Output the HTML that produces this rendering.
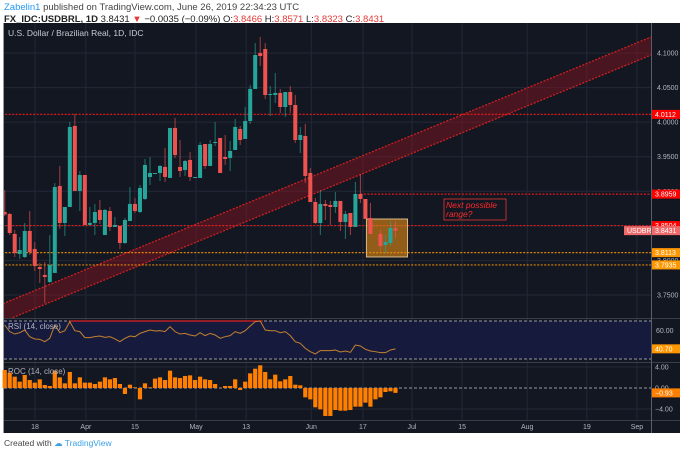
<!DOCTYPE html>
<html><head><meta charset="utf-8">
<style>
body{margin:0;background:#fff;width:680px;height:452px;overflow:hidden;font-family:"Liberation Sans",sans-serif}
svg{display:block}
</style></head>
<body>
<svg id="c" width="680" height="452" xmlns="http://www.w3.org/2000/svg" font-family="Liberation Sans, sans-serif">
<rect x="0" y="0" width="680" height="452" fill="#fff"/>
<text x="4" y="10" font-size="9.5" fill="#444"><tspan fill="#2196f3">Zabelin1</tspan> published on TradingView.com, June 26, 2019 22:34:23 UTC</text>
<text x="4" y="22" font-size="9.5" fill="#222"><tspan font-weight="bold">FX_IDC:USDBRL, 1D</tspan> 3.8431 <tspan fill="#e53935">▼</tspan> −0.0035 (−0.09%) O:<tspan fill="#e53935">3.8466</tspan> H:<tspan fill="#e53935">3.8571</tspan> L:<tspan fill="#e53935">3.8323</tspan> C:<tspan fill="#e53935">3.8431</tspan></text>
<rect x="3" y="23" width="677" height="410" fill="#131722"/>
<line x1="3.5" y1="23" x2="3.5" y2="433" stroke="#999" stroke-width="1"/>
<g id="grid"></g>
<g id="main" clip-path="url(#mc)"></g>
<g id="axis"></g>
<text x="8" y="36" font-size="8.5" fill="#c9cbd1">U.S. Dollar / Brazilian Real, 1D, IDC</text>
<text x="4" y="446" font-size="8.5" fill="#444">Created with <tspan fill="#3aa0e8">☁ TradingView</tspan></text>
<defs><clipPath id="mc"><rect x="4" y="23" width="647" height="295"/></clipPath></defs>
</svg>
<script>
// ---- data ----
const opens=[3.8701,3.8672,3.8383,3.8093,3.8050,3.8426,3.8166,3.7905,3.7790,3.7688,3.7819,3.9077,3.8542,3.8773,3.9945,3.9005,3.9236,3.8513,3.8542,3.8730,3.8368,3.8715,3.8484,3.8498,3.8252,3.8571,3.8817,3.8701,3.8889,3.9207,3.9250,3.9265,3.9352,3.9193,3.9916,3.9352,3.9308,3.9453,3.9193,3.9193,3.9684,3.9366,3.9699,3.9771,3.9496,3.9482,3.9597,3.9901,3.9757,4.0017,4.0480,4.1000,4.1058,4.0393,4.0393,4.0422,4.0219,4.0436,4.0248,3.9742,3.9800,3.9265,3.8845,3.8542,3.8817,3.8802,3.8773,3.8860,3.8556,3.8686,3.8484,3.8961,3.8889,3.8614,null,3.8383,3.8224,3.8252,3.8466];
const highs=[3.9019,3.8686,3.8441,3.8339,3.8542,3.8715,3.8267,3.7963,3.7978,3.8368,3.9120,3.9366,3.8773,4.0003,4.0118,3.9294,3.9236,3.8773,3.8817,3.8874,3.8744,3.8773,3.8629,3.8498,3.8614,3.9062,3.8903,3.9091,3.9467,3.9496,3.9265,3.9381,3.9626,3.9916,4.0060,3.9742,3.9453,3.9568,3.9207,3.9713,3.9684,3.9742,4.0003,3.9771,3.9814,3.9728,4.0046,3.9945,4.0219,4.0537,4.1145,4.1231,4.1145,4.0523,4.0711,4.0480,4.0436,4.0523,4.0393,3.9930,3.9974,3.9337,3.8903,3.9019,3.8874,3.8860,3.8990,3.8860,3.8715,3.8686,3.9135,3.9250,3.8889,3.8831,null,3.8441,3.8368,3.8571,3.8571];
const lows=[3.8643,3.8368,3.8050,3.8021,3.8035,3.8079,3.7847,3.7674,3.7385,3.7674,3.7819,3.8455,3.8354,3.8773,3.9005,3.8715,3.8513,3.8513,3.8368,3.8527,3.8368,3.8426,3.8484,3.8166,3.8238,3.8571,3.8686,3.8686,3.8874,3.9091,3.9250,3.9149,3.9135,3.9193,3.9482,3.9207,3.9222,3.9149,3.9193,3.9193,3.9323,3.9366,3.9655,3.9265,3.9381,3.9294,3.9597,3.9670,3.9757,3.9974,4.0480,4.0812,4.0335,4.0089,4.0277,4.0132,4.0075,4.0132,3.9699,3.9554,3.9120,3.8845,3.8527,3.8368,3.8585,3.8513,3.8686,3.8426,3.8310,3.8368,3.8484,3.8831,3.8600,3.8383,null,3.8137,3.8108,3.8209,3.8323];
const closes=[3.8665,3.8397,3.8108,3.8151,3.8426,3.8122,3.7919,3.7876,3.7761,3.7934,3.9062,3.8542,3.8773,3.9930,3.9005,3.9236,3.8513,3.8542,3.8701,3.8585,3.8730,3.8484,3.8513,3.8252,3.8585,3.8817,3.8715,3.9048,3.9381,3.9265,3.9265,3.9366,3.9207,3.9916,3.9525,3.9294,3.9438,3.9207,3.9207,3.9670,3.9366,3.9684,3.9713,3.9265,3.9467,3.9583,3.9930,3.9742,4.0017,4.0480,4.0971,4.0957,4.0393,4.0407,4.0422,4.0219,4.0436,4.0248,3.9742,3.9814,3.9222,3.8845,3.8542,3.8817,3.8788,3.8773,3.8860,3.8556,3.8672,3.8484,3.8961,3.8889,3.8600,3.8383,null,3.8209,3.8267,3.8469,3.8431];
const rsiValues=[65.8,58.8,56.3,57.7,60.5,53.5,51.1,50.7,48.2,51.8,65.8,57.7,59.8,69.3,59.8,58.8,52.5,52.5,53.5,54.2,52.8,53.5,51.1,48.2,51.8,54.2,53.5,57.0,58.8,60.5,59.5,59.8,58.8,64.0,58.8,56.3,57.0,55.3,54.2,57.7,54.6,57.0,55.3,51.8,53.5,54.6,58.8,57.0,59.8,64.7,69.3,70.0,60.5,59.8,59.8,57.7,58.8,54.6,48.2,46.5,41.2,37.7,35.3,38.8,38.8,38.8,39.5,37.4,38.4,37.0,44.7,43.7,40.2,38.4,37.7,36.7,36.7,39.5,40.7];
const rocValues=[3.43,2.92,2.16,1.21,2.48,1.52,1.02,1.65,0.57,0.38,3.30,2.03,0.89,3.05,0.89,2.03,1.02,1.02,0.76,1.21,2.03,1.65,1.90,0.76,-1.14,0.63,0.13,-2.16,0.89,0.13,1.78,2.03,1.52,3.30,2.03,1.90,2.29,2.41,1.52,2.16,1.65,1.52,0.76,0,0.38,0.38,1.65,-0.38,1.21,2.79,3.68,4.32,3.05,1.65,2.54,1.27,1.65,2.29,0.63,0.51,-1.78,-2.16,-3.68,-4.06,-5.33,-5.33,-4.19,-4.32,-4.32,-4.19,-3.56,-3.56,-2.79,-3.56,-2.16,-1.78,-0.76,-0.63,-0.93];
const dateLabels=['18','Apr','15','May','13','Jun','17','Jul','15','Aug','19','Sep'];
const dateSlots=[6.05,16.2,26,38.2,48.2,61.2,71.5,81.3,91.3,104.3,116.2,126.2];
const priceTicks=[3.75,3.80,3.85,3.90,3.95,4.00,4.05,4.10];
const hLevels=[4.0112,3.8959,3.8504,3.8113,3.7935];
const hColors=['#ff1a1a','#ff1a1a','#ff1a1a','#ff9800','#ff9800'];
const hStartSlot=[-2,71,-2,-2,-2];
const channelSlots=[-1,129];
const channelUpper=[3.7355,4.1231];
const channelWidth=0.026;
const boxSlots=[72.2,80.4];
const boxPrices=[3.8599,3.8050];
const rsiTicks=[60];
const rocTicks=[4,0,-4];
// ---- scales ----
const X=i=>4.7+i*5.01;
const Y=p=>295-(p-3.75)*691.4;
const YR=v=>321+(70-v)*0.95;
const YC=v=>388-v*5.25;
const NS='http://www.w3.org/2000/svg';
function mk(parent,tag,attrs){const e=document.createElementNS(NS,tag);for(const k in attrs)e.setAttribute(k,attrs[k]);document.getElementById(parent).appendChild(e);return e;}
priceTicks.forEach(p=>{const l=mk('grid','line',{x1:4,x2:651,y1:Y(p),y2:Y(p),stroke:'#232837'});

});
dateSlots.forEach(s=>{const l=mk('grid','line',{x1:X(s),x2:X(s),y1:23,y2:420,stroke:'#232837'});

});
(function(){const x1=X(channelSlots[0]),x2=X(channelSlots[1]);
const u1=Y(channelUpper[0]),u2=Y(channelUpper[1]),l1=Y(channelUpper[0]-channelWidth),l2=Y(channelUpper[1]-channelWidth);
const poly=mk('main','polygon',{points:`${x1},${u1} ${x2},${u2} ${x2},${l2} ${x1},${l1}`,fill:'rgba(140,20,30,0.45)'});


[[u1,u2],[l1,l2]].forEach(a=>{const l=mk('main','line',{x1:x1,x2:x2,y1:a[0],y2:a[1],stroke:'#d01f1f','stroke-width':1.3,'stroke-dasharray':'2,1.5'});

});})();
hLevels.forEach((p,i)=>{const l=mk('main','line',{x1:X(hStartSlot[i]),x2:651,y1:Y(p),y2:Y(p),stroke:hColors[i],'stroke-width':1.2,'stroke-dasharray':'2,1.5',opacity:0.85});

});
(function(){const b=mk('main','rect',{x:X(boxSlots[0]),y:Y(boxPrices[0]),width:X(boxSlots[1])-X(boxSlots[0]),height:Y(boxPrices[1])-Y(boxPrices[0]),fill:'rgba(230,140,20,0.6)',stroke:'#d8b98a','stroke-width':1});

})();
opens.forEach((o,i)=>{if(o===null)return;const c=closes[i],up=c>=o,col=up?'#26a69a':'#ef5350',x=X(i);
const w=mk('main','line',{x1:x,x2:x,y1:Y(highs[i]),y2:Y(lows[i]),stroke:col,'stroke-opacity':0.65,'stroke-width':1});


const top=Y(Math.max(o,c)),h=Math.max(1,Y(Math.min(o,c))-top);
const r=mk('main','rect',{x:x-2,y:top,width:4,height:h,fill:col});

});
(function(){const g=mk('main','rect',{x:444,y:199,width:62,height:21,fill:'none',stroke:'#e53935','stroke-width':0.8});


const t=mk('main','text',{x:446,y:208,'font-size':8.5,'font-style':'italic',fill:'#ff2a2a'});t.textContent='Next possible';


const t2=mk('main','text',{x:446,y:217,'font-size':8.5,'font-style':'italic',fill:'#ff2a2a'});t2.textContent='range?';

})();
[318.5,362.5,420.5].forEach(y=>{const l=mk('axis','line',{x1:4,x2:680,y1:y,y2:y,stroke:'#3a3e4a'});

});
(function(){const l=mk('axis','line',{x1:651.5,x2:651.5,y1:23,y2:433,stroke:'#5a5e6a'});

})();
(function(){const b=mk('axis','rect',{x:4,y:YR(70),width:647,height:YR(30)-YR(70),fill:'#161b3e'});


[70,30].forEach(v=>{const l=mk('axis','line',{x1:4,x2:651,y1:YR(v),y2:YR(v),stroke:'#9598a1','stroke-dasharray':'3,2'});

});
const rl=mk('axis','line',{x1:X(13),x2:X(51.5),y1:YR(70),y2:YR(70),stroke:'#e02020','stroke-width':1.2});


const pts=rsiValues.map((v,i)=>X(i)+','+YR(v)).join(' ');
const p=mk('axis','polyline',{points:pts,fill:'none',stroke:'#c5812e','stroke-width':1});


const t=mk('axis','text',{x:8,y:329,'font-size':8,fill:'#b2b5be'});t.textContent='RSI (14, close)';

})();
(function(){rocTicks.forEach(v=>{const l=mk('axis','line',{x1:4,x2:651,y1:YC(v),y2:YC(v),stroke:v===0?'#9598a1':'#232837','stroke-dasharray':v===0?'3,2':'none'});

});
rocValues.forEach((v,i)=>{if(v===0)return;const y0=YC(0),y1=YC(v);
const r=mk('axis','rect',{x:X(i)-2.1,y:Math.min(y0,y1),width:4.2,height:Math.abs(y1-y0),fill:'#ff7f00'});

});
const t=mk('axis','text',{x:8,y:374,'font-size':8,fill:'#b2b5be'});t.textContent='ROC (14, close)';

})();
priceTicks.forEach(p=>{const t=mk('axis','text',{x:657,y:Y(p)+2.5,'font-size':7,fill:'#b2b5be'});t.textContent=p.toFixed(4);

});
function tag(y,txt,bg,x,w,name){const r=mk('axis','rect',{x:x,y:y-4.5,width:w,height:9,fill:bg});


const t=mk('axis','text',{x:x+3,y:y+2.6,'font-size':7,fill:'#fff'});t.textContent=txt;

}
hLevels.forEach((p,i)=>tag(Y(p),p.toFixed(4),hColors[i]==='#ff9800'?'#ff9800':'#ff0000',652,28,'level-price-tag'));
tag(Y(closes[closes.length-1]),'USDBRL','#ef6a6a',624,27,'symbol-tag');
tag(Y(closes[closes.length-1]),closes[closes.length-1].toFixed(4),'#ef6a6a',652,28,'last-price-tag');
rsiTicks.forEach(v=>{const t=mk('axis','text',{x:656,y:YR(v)+2.5,'font-size':7,fill:'#b2b5be'});t.textContent=v.toFixed(2);

});
tag(YR(rsiValues[rsiValues.length-1]),rsiValues[rsiValues.length-1].toFixed(2),'#ff9800',652,28,'rsi-value-tag');
rocTicks.forEach(v=>{const t=mk('axis','text',{x:655,y:YC(v)+2.5,'font-size':7,fill:'#b2b5be'});t.textContent=(v<0?'−':'')+Math.abs(v).toFixed(2);

});
tag(YC(rocValues[rocValues.length-1]),'−'+Math.abs(rocValues[rocValues.length-1]).toFixed(2),'#ff7f00',652,28,'roc-value-tag');
dateLabels.forEach((d,i)=>{const t=mk('axis','text',{x:X(dateSlots[i]),y:429,'font-size':7,fill:'#b2b5be','text-anchor':'middle'});t.textContent=d;

});
</script>
</body></html>
